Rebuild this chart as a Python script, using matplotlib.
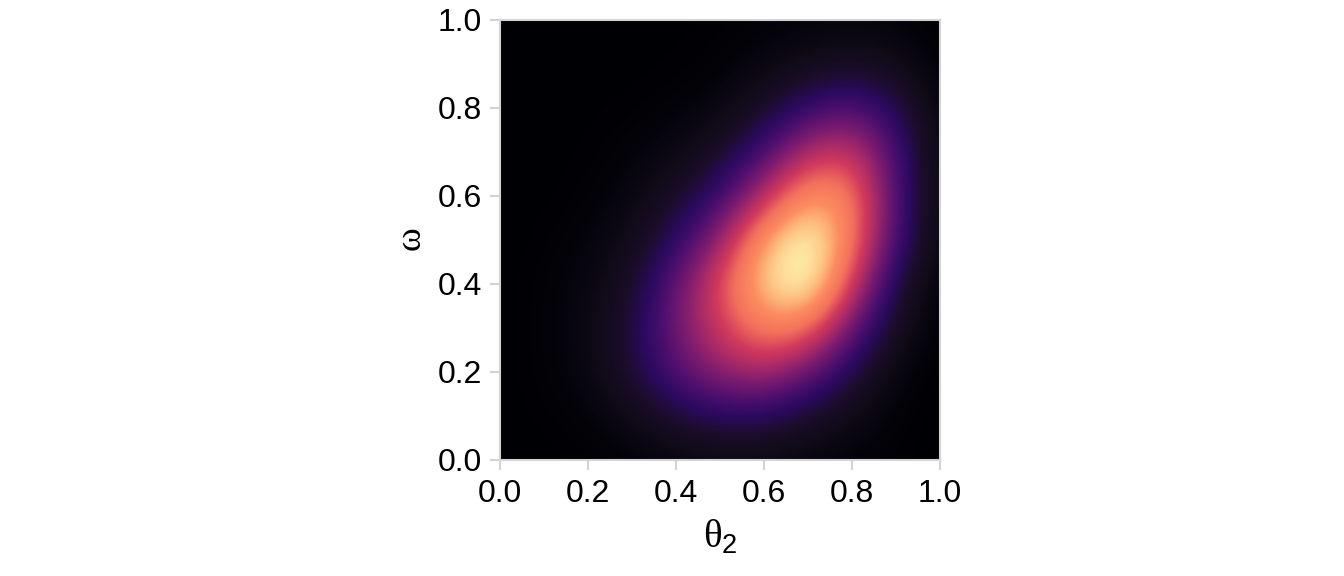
import numpy as np
import matplotlib
matplotlib.use("Agg")
import matplotlib.pyplot as plt
from matplotlib.colors import LinearSegmentedColormap

plt.rcParams['font.family'] = ['Liberation Sans', 'DejaVu Sans']
plt.rcParams['mathtext.fontset'] = 'custom'
plt.rcParams['mathtext.rm'] = 'Liberation Serif'
plt.rcParams['mathtext.sf'] = 'Liberation Sans'

# Density: rows are omega 0.0..1.0, columns theta2 0.0..1.0
grid_positions = [0.0, 0.1, 0.2, 0.3, 0.4, 0.5, 0.6, 0.7, 0.8, 0.9, 1.0]
density_w00 = [0, 0, .005, .01, .02, .03, .03, .02, .01, .005, 0]
density_w01 = [0, .005, .015, .05, .13, .19, .18, .11, .05, .01, 0]
density_w02 = [0, .01, .03, .13, .30, .42, .48, .34, .15, .02, 0]
density_w03 = [0, .01, .04, .14, .36, .55, .72, .68, .34, .08, 0]
density_w04 = [0, .01, .03, .10, .33, .60, .88, 1.0, .57, .14, 0]
density_w05 = [0, .005, .02, .06, .20, .43, .80, 1.0, .71, .26, .01]
density_w06 = [0, .002, .008, .03, .10, .24, .50, .78, .72, .28, .01]
density_w07 = [0, 0, .005, .015, .04, .10, .26, .50, .55, .27, .01]
density_w08 = [0, 0, .002, .005, .012, .03, .10, .23, .30, .18, .01]
density_w09 = [0, 0, 0, .002, .004, .01, .03, .06, .09, .06, .005]
density_w10 = [0, 0, 0, 0, .002, .005, .01, .015, .02, .015, 0]
density = [density_w00, density_w01, density_w02, density_w03, density_w04, density_w05,
           density_w06, density_w07, density_w08, density_w09, density_w10]
tick_values = [0.0, 0.2, 0.4, 0.6, 0.8, 1.0]
tick_labels = ['0.0', '0.2', '0.4', '0.6', '0.8', '1.0']
x_label = r'$\mathrm{\theta}_{\mathsf{2}}$'
y_label = r'$\mathrm{\omega}$'

colour_stops = [
    (0.00, '#000004'), (0.06, '#100b18'), (0.12, '#1c0d2c'), (0.20, '#2c0a60'),
    (0.28, '#4c0f6e'), (0.38, '#7a1b6f'), (0.47, '#a82a68'), (0.56, '#d23a5c'),
    (0.66, '#f3705c'), (0.76, '#fc8d60'), (0.85, '#fec685'), (0.90, '#fde09c'),
    (0.95, '#fbfdb0'), (1.00, '#fbfdb0'),
]
cmap = LinearSegmentedColormap.from_list('density', colour_stops, N=512)

W, H = 1344, 576
fig = plt.figure(figsize=(W / 100, H / 100), dpi=100)
ax = fig.add_axes([500 / W, 1 - 459.5 / H, 440 / W, 440 / H])
half = (grid_positions[1] - grid_positions[0]) / 2
ax.imshow(np.array(density), origin='lower', cmap=cmap, vmin=0, vmax=1,
          extent=(grid_positions[0] - half, grid_positions[-1] + half,
                  grid_positions[0] - half, grid_positions[-1] + half),
          interpolation='bicubic', aspect='auto')
ax.set_xlim(0, 1)
ax.set_ylim(0, 1)
ax.set_xticks(tick_values, tick_labels)
ax.set_yticks(tick_values, tick_labels)
ax.tick_params(length=7, width=1.5, color='#d3d3d3', labelsize=23, labelcolor='black')
ax.tick_params(axis='x', pad=7)
ax.tick_params(axis='y', pad=6)
for s in ax.spines.values():
    s.set_color('#d3d3d3')
    s.set_linewidth(1.5)
ax.set_xlabel(x_label, fontsize=28, labelpad=6)
ax.set_ylabel(y_label, fontsize=26, labelpad=6)
fig.savefig('out.png', dpi=100)
